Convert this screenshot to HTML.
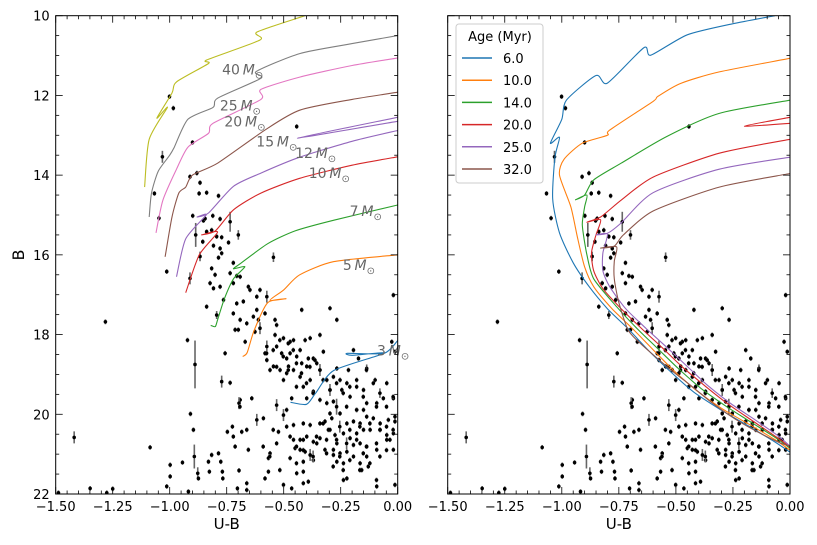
<!DOCTYPE html>
<html><head><meta charset="utf-8"><style>
html,body{margin:0;padding:0;background:#fff;}
svg{display:block;font-family:"DejaVu Sans","Liberation Sans",sans-serif;}
</style></head><body>
<svg id="fig" width="817" height="545" viewBox="0 0 817 545"></svg>
<script>
// ---- data ----
const stars = [
[-1.001,12.03],[-0.984,12.32],[-0.900,13.18],[-1.032,13.54,0.15],[-1.067,14.46],[-1.047,15.08],[-0.911,14.04],[-0.881,13.95],[-0.867,14.19],[-0.871,14.46],[-0.838,14.44],[-0.786,14.52],[-0.443,12.78],[-0.899,15.02],[-0.886,15.5,0.3],[-0.867,16.04,0.12],[-0.852,15.14],[-0.845,15.09],[-0.855,15.67],[-0.838,15.42],[-0.816,15.38],[-0.811,15.02],[-0.779,15.1],[-0.808,15.77],[-0.794,15.54],[-0.772,15.56],[-0.779,15.84],[-0.772,15.96],[-0.786,16.07],[-0.735,15.17,0.25],[-0.742,15.69],[-0.699,15.5,0.12],[-0.721,16.2],[-0.545,16.06,0.12],[-0.816,16.34],[-0.801,16.5],[-0.735,16.46],[-0.706,16.53],[-1.013,16.42],[-0.911,16.59,0.15],
[-0.823,16.71],[-0.808,16.84],[-0.779,16.80],[-0.721,16.71],[-0.691,16.55],[-0.655,16.80],[-0.706,17.22],[-0.677,17.17],[-0.648,16.88],[-0.618,17.05],[-0.604,16.88],[-0.574,17.05,0.15],[-0.838,17.30],[-0.794,17.51,0.1],[-0.764,17.13],[-0.721,17.47],[-0.691,17.63],[-0.713,17.88],[-0.699,17.88],[-0.662,17.72],[-0.633,17.55],[-0.611,17.63],[-0.618,17.38],[-0.582,17.47],[-0.604,17.84,0.15],[-0.669,18.18],[-0.626,17.93],[-0.538,17.63],[-0.531,17.76],[-0.538,18.01],[-0.501,18.09],[-0.472,18.18],[-0.457,18.14],[-0.531,18.30],[-0.509,18.47],[-0.472,18.47],[-0.487,18.60],[-0.574,18.30,0.15],[-0.582,18.47],[-0.574,18.64],[-0.560,18.89],[-0.545,18.80],[-0.516,18.89],[-0.487,18.97],[-0.457,18.89],[-0.399,18.80],[-0.370,18.60],[-0.428,18.39],[-0.406,18.14],[-0.384,18.09],[-0.341,18.01],[-0.421,17.38],[-0.297,17.34],[-0.267,17.63],[-0.019,17.01],[-0.026,18.18],[-0.012,18.43],[-0.194,18.39],[-0.172,18.60],[-0.136,18.85,0.1],[-0.216,18.89],[-0.267,18.85],[-0.282,19.06],[-0.341,18.89],[-0.384,19.14],[-0.414,19.31],[-0.428,19.06],[-0.479,18.80],[-0.501,19.14],[-0.443,18.55],[-0.421,18.72],[-0.392,18.60],[-0.355,18.72],[-0.326,18.43],[-0.311,19.14],[-0.253,19.14],[-0.223,19.22],[-0.180,19.31],[-0.150,19.39],[-0.099,19.14],[-0.048,19.22],[-0.063,19.60],[-0.019,19.60],[-0.092,19.72],[-0.136,19.72],[-0.150,19.89],[-0.180,19.89],[-0.209,19.56],[-0.245,19.39],[-0.297,19.39],[-0.282,19.68],[-0.311,19.72],[-0.341,19.64],[-0.370,19.43],[-0.399,19.60],[-0.465,19.60],[-0.487,19.89],[-0.531,19.77,0.15],[-0.501,20.02,0.15],[-0.457,20.27],[-0.414,20.23],[-0.384,20.27],[-0.341,20.23],[-0.319,20.18],[-0.289,20.10],[-0.253,19.98],[-0.223,20.23],[-0.194,20.18],[-0.165,20.23],[-0.136,20.06],[-0.107,20.10],[-0.077,20.23],[-0.041,20.14],[-0.012,20.18],[-0.019,20.48],[-0.048,20.52],[-0.077,20.39],[-0.121,20.39],[-0.150,20.39],[-0.180,20.48],[-0.209,20.60],[-0.238,20.48],[-0.275,20.52],[-0.304,20.39],[-0.341,20.60],[-0.370,20.69],[-0.399,20.56],[-0.428,20.64],[-0.457,20.64],[-0.450,20.85],[-0.428,20.89],[-0.406,20.94],[-0.384,21.02,0.15],[-0.355,20.73],[-0.319,20.89],[-0.282,20.89],[-0.267,20.73],[-0.253,20.98],[-0.223,20.94],[-0.194,20.77],[-0.165,20.73],[-0.136,20.81],[-0.092,20.89],[-0.048,20.64],[-0.019,20.89],[-0.136,21.06],[-0.165,21.23],[-0.194,21.06],[-0.238,21.23],[-0.267,21.19],[-0.282,21.02],[-0.370,21.15],[-0.414,21.19],[-0.443,21.48],[-0.414,21.44],[-0.472,21.10],[-0.472,20.56],[-0.487,20.31],[-0.523,20.44],[-0.531,20.73],[-0.560,20.98],[-0.567,21.10],[-0.567,21.44],[-0.582,21.61],[-0.501,21.77],[-0.465,21.86],[-0.414,21.73],[-0.392,21.69],[-0.223,21.61],[-0.238,21.65],[-0.158,21.40],[-0.129,21.31],[-0.092,21.81],[-0.012,21.77],[-0.640,19.60],[-0.691,19.64],[-0.696,19.72,0.15],[-0.684,20.44],[-0.655,20.89],[-0.713,20.81],[-0.725,20.31],[-0.747,20.44],[-0.721,20.56],[-0.772,19.18,0.15],[-0.735,19.21],[-0.757,18.47],[-0.922,18.14],[-0.889,18.75,0.6],[-0.909,19.99],[-0.896,20.39],[-0.892,21.06,0.3],[-0.877,21.48,0.15],[-0.874,21.61],[-0.944,21.21],[-0.998,21.27],[-0.998,21.56],[-1.086,20.83],[-1.419,20.58,0.15],[-1.282,17.68],[-1.349,21.86],[-1.250,21.87],[-1.013,21.81],[-0.918,21.94],[-0.830,21.19],[-0.826,21.44],[-0.816,21.02],[-0.786,20.98],[-0.776,21.19],[-0.769,21.44],[-0.767,21.61],[-0.696,21.41],[-0.703,21.86],[-0.662,21.90],[-0.662,21.73],[-0.618,20.14,0.15],[-0.589,20.10],[-1.488,21.97],[-1.276,21.97],
[-0.517,18.14],[-0.480,18.22],[-0.546,18.39],[-0.575,18.47],[-0.502,18.55],[-0.458,18.39],[-0.531,18.81],[-0.480,18.89],[-0.444,18.72],[-0.422,18.97],[-0.385,18.81],[-0.363,18.64],[-0.341,18.89,0.15],[-0.327,19.14],[-0.400,19.22],[-0.444,19.31],[-0.371,19.47],[-0.297,19.39,0.15],[-0.268,19.22],[-0.239,19.47],[-0.210,19.31],[-0.180,19.14],[-0.137,18.89],[-0.107,19.22],[-0.078,19.47,0.12],[-0.049,19.81],[-0.093,19.81],[-0.151,19.56],[-0.180,19.89],[-0.224,19.81],[-0.268,19.81,0.2],[-0.297,19.98],[-0.327,20.23],[-0.297,20.39],[-0.254,20.31,0.15],[-0.210,20.39],[-0.166,20.31],[-0.122,20.23],[-0.078,20.39],[-0.049,20.31],[-0.020,20.39],[-0.034,20.64],[-0.093,20.73],[-0.137,20.81],[-0.180,20.64],[-0.224,20.73,0.15],[-0.268,20.64],[-0.312,20.64],[-0.356,20.56],[-0.414,20.64],[-0.444,20.81],[-0.414,20.90],[-0.371,21.06,0.15],[-0.312,20.98],[-0.254,21.06],[-0.210,21.15],[-0.151,20.98],[-0.122,21.23],[-0.078,21.06],[-0.049,20.90],[-0.283,21.31],[-0.239,21.40],[-0.166,21.40],[-0.093,21.65],[-0.444,21.23],[-0.517,21.40],[-0.546,20.39],[-0.590,20.81],[-0.561,21.06],[-0.020,19.56],[-0.012,20.06],[-0.662,20.39],[-0.692,19.81]
];
// evolutionary tracks (left panel)
const trackMasses = ["40","25","20","15","12","10","7","5","3"];
const trackColors = ["#bcbd22","#7f7f7f","#e377c2","#8c564b","#9467bd","#d62728","#2ca02c","#ff7f0e","#1f77b4"];
const track40 = [[-0.407,10.0],[-0.617,10.41],[-0.604,10.61],[-0.837,11.11],[-0.83,11.2],[-0.97,11.66],[-0.99,11.94],[-1.056,12.57],[-1.01,12.3],[-1.09,13.1],[-1.11,14.3]];
const track25 = [[0,10.5],[-0.2,10.7],[-0.43,10.95],[-0.62,11.4],[-0.6,11.57],[-0.79,12.07],[-0.81,12.3],[-0.92,12.6],[-0.98,13.3],[-1.0,13.5],[-1.05,13.9],[-1.08,14.45],[-1.09,15.05]];
const track20 = [[0,11.06],[-0.2,11.25],[-0.43,11.54],[-0.6,11.85],[-0.6,12.1],[-0.81,12.7],[-0.83,12.95],[-0.92,13.3],[-0.97,13.85],[-1.03,14.63],[-1.06,15.45]];
const track15 = [[0,11.92],[-0.2,12.1],[-0.43,12.37],[-0.58,12.86],[-0.79,13.7],[-0.9,14.0],[-0.93,14.3],[-0.96,14.45],[-0.99,15.05],[-1.02,16.05]];
const track12 = [[0,12.88],[-0.2,13.15],[-0.43,13.55],[-0.6,13.95],[-0.72,14.28],[-0.83,14.95],[-0.88,15.05],[-0.84,15.0],[-0.93,15.6],[-0.97,16.55]];
const track12b = [[0,12.55],[-0.44,13.07],[0,12.65]];
const track10 = [[0,13.54],[-0.2,13.75],[-0.43,14.08],[-0.6,14.45],[-0.72,14.87],[-0.8,15.4],[-0.86,15.5],[-0.79,15.43],[-0.87,16.0],[-0.93,16.95]];
const track7 = [[0,14.75],[-0.28,15.13],[-0.45,15.4],[-0.57,15.72],[-0.69,16.22],[-0.72,16.35],[-0.67,16.3],[-0.72,16.6],[-0.76,17.1],[-0.79,17.63],[-0.8,17.8],[-0.82,17.77]];
const track5 = [[0,16.0],[-0.28,16.17],[-0.43,16.5],[-0.5,16.88],[-0.56,17.14],[-0.49,17.1],[-0.57,17.2],[-0.63,17.9],[-0.66,18.45],[-0.68,18.55]];
const track3 = [[0,18.15],[-0.06,18.47],[-0.22,18.47],[-0.2,18.52],[-0.06,18.47],[-0.28,18.9],[-0.36,19.47],[-0.4,19.75],[-0.47,19.7]];
const trackList = [track40,track25,track20,track15,track12,track10,track7,track5,track3];
const labelPos = [[-0.68,11.35],[-0.69,12.25],[-0.67,12.65],[-0.53,13.15],[-0.36,13.45],[-0.30,13.95],[-0.14,14.9],[-0.17,16.25],[-0.02,18.4]];
// isochrones (right panel)
const ages = ["6.0","10.0","14.0","20.0","25.0","32.0"];
const isoColors = ["#1f77b4","#ff7f0e","#2ca02c","#d62728","#9467bd","#8c564b"];
const iso6 = [[-0.066,10.0],[-0.25,10.2],[-0.45,10.48],[-0.61,10.99],[-0.64,10.8],[-0.80,11.69],[-0.85,11.5],[-0.98,12.12],[-1.0,12.6],[-1.05,13.2],[-1.01,13.05],[-1.03,13.55],[-1.04,14.6],[-1.01,15.45],[-0.95,16.2],[-0.88,16.8],[-0.80,17.35],[-0.71,17.85],[-0.62,18.4],[-0.52,18.95],[-0.42,19.45],[-0.30,19.9],[-0.18,20.3],[-0.07,20.68],[0,20.95]];
const iso10 = [[0,11.07],[-0.31,11.41],[-0.48,11.7],[-0.58,12.03],[-0.60,12.15],[-0.79,12.87],[-0.80,13.0],[-0.91,13.2],[-0.99,13.6],[-1.01,14.0],[-0.96,14.8],[-0.93,15.6],[-0.90,16.3],[-0.86,16.8],[-0.78,17.35],[-0.69,17.85],[-0.60,18.38],[-0.51,18.9],[-0.41,19.4],[-0.30,19.85],[-0.18,20.25],[-0.07,20.62],[0,20.9]];
const iso14 = [[0,12.12],[-0.31,12.45],[-0.54,13.03],[-0.74,13.7],[-0.86,14.12],[-0.90,14.5],[-0.94,14.62],[-0.89,14.5],[-0.90,14.8],[-0.91,15.25],[-0.89,16.0],[-0.86,16.6],[-0.76,17.3],[-0.67,17.85],[-0.58,18.35],[-0.49,18.85],[-0.39,19.35],[-0.28,19.8],[-0.17,20.2],[-0.06,20.6],[0,20.85]];
const iso20 = [[0,13.1],[-0.31,13.45],[-0.60,14.05],[-0.74,14.63],[-0.83,15.05],[-0.89,15.18],[-0.83,15.12],[-0.85,15.5],[-0.87,15.95],[-0.86,16.4],[-0.82,16.85],[-0.74,17.35],[-0.65,17.85],[-0.56,18.33],[-0.47,18.82],[-0.37,19.3],[-0.27,19.75],[-0.16,20.18],[-0.06,20.57],[0,20.82]];
const iso20b = [[0,12.55],[-0.20,12.77],[0,12.7]];
const iso25 = [[0,13.55],[-0.31,13.85],[-0.60,14.44],[-0.74,15.2],[-0.80,15.46],[-0.85,15.5],[-0.80,15.48],[-0.82,15.95],[-0.82,16.4],[-0.79,16.8],[-0.72,17.35],[-0.63,17.85],[-0.54,18.32],[-0.45,18.8],[-0.36,19.28],[-0.26,19.73],[-0.15,20.15],[-0.05,20.55],[0,20.8]];
const iso32 = [[0,13.96],[-0.31,14.3],[-0.60,14.9],[-0.73,15.5],[-0.77,15.78],[-0.83,15.83],[-0.76,15.8],[-0.77,16.16],[-0.77,16.6],[-0.75,17.2],[-0.71,17.88],[-0.66,18.2],[-0.53,18.85],[-0.43,19.3],[-0.34,19.72],[-0.24,20.12],[-0.14,20.45],[-0.05,20.7],[0,20.8]];
const isoList = [iso6,iso10,iso14,iso20,iso25,iso32];
const xTicks = ["\u22121.50","\u22121.25","\u22121.00","\u22120.75","\u22120.50","\u22120.25","0.00"];
const xTickVals = [-1.5,-1.25,-1.0,-0.75,-0.5,-0.25,0];
const yTickVals = [10,12,14,16,18,20,22];

// ---- drawing ----
const NS="http://www.w3.org/2000/svg";
const svg=document.getElementById('fig');
function mk(tag,attrs,parent){const e=document.createElementNS(NS,tag);for(const k in attrs)e.setAttribute(k,attrs[k]);(parent||svg).appendChild(e);return e;}
const T=15.7,Bt=494;
const yS=b=>T+(b-10)*(Bt-T)/12;
function build(L,R,name){
  const g=mk('g',{});
  
  
  const clip=mk('clipPath',{id:'c'+name},g);mk('rect',{x:L,y:T,width:R-L,height:Bt-T},clip);
  const plot=mk('g',{'clip-path':'url(#c'+name+')'},g);
  return {g,plot,L,R,xS:v=>L+(v+1.5)*(R-L)/1.5};
}
function axes(P,yLabels){
  const {xS,g,L,R}=P;
  const tg=mk('g',{stroke:'#000','stroke-width':0.8},g);
  
  
  for(let i=0;i<=30;i++){const v=-1.5+i*0.05;const x=xS(v);const maj=i%5==0;const len=maj?7:3.5;
    mk('line',{x1:x,y1:Bt,x2:x,y2:Bt-len},tg);mk('line',{x1:x,y1:T,x2:x,y2:T+len},tg);}
  for(let i=0;i<=24;i++){const v=10+i*0.5;const y=yS(v);const maj=i%4==0;const len=maj?7:3.5;
    mk('line',{x1:L,y1:y,x2:L+len,y2:y},tg);mk('line',{x1:R,y1:y,x2:R-len,y2:y},tg);}
  mk('rect',{x:L,y:T,width:R-L,height:Bt-T,fill:'none',stroke:'#000','stroke-width':1},g);
  xTickVals.forEach((v,i)=>{const t=mk('text',{x:xS(v),y:Bt+17,'text-anchor':'middle','font-size':13},g);t.textContent=xTicks[i];
    
    });
  if(yLabels)yTickVals.forEach(v=>{const t=mk('text',{x:L-6,y:yS(v)+5,'text-anchor':'end','font-size':13},g);t.textContent=v;
    
    });
  const xl=mk('text',{x:(L+R)/2,y:529,'text-anchor':'middle','font-size':15},g);xl.textContent='U-B';
  
  
}
function line(P,pts,color,name){
  const p=pts.map(q=>[P.xS(q[0]),yS(q[1])]);
  let d='M'+p[0][0].toFixed(1)+','+p[0][1].toFixed(1);
  const k=0.12;
  for(let i=0;i<p.length-1;i++){
    const p0=p[i-1]||p[i],p1=p[i],p2=p[i+1],p3=p[i+2]||p2;
    const c1=[p1[0]+(p2[0]-p0[0])*k,p1[1]+(p2[1]-p0[1])*k];
    const c2=[p2[0]-(p3[0]-p1[0])*k,p2[1]-(p3[1]-p1[1])*k];
    d+='C'+c1.map(v=>v.toFixed(1)).join(',')+' '+c2.map(v=>v.toFixed(1)).join(',')+' '+p2[0].toFixed(1)+','+p2[1].toFixed(1);
  }
  const e=mk('path',{d:d,fill:'none',stroke:color,'stroke-width':1.1,'stroke-linejoin':'round'},P.plot);
  
  
}
function drawStars(P){
  const sg=mk('g',{},P.plot);
  
  
  stars.forEach(s=>{const x=P.xS(s[0]),y=yS(s[1]);const e=s[2]||0.06;
    mk('line',{x1:x,y1:yS(s[1]-e),x2:x,y2:yS(s[1]+e),stroke:'#666','stroke-width':1.6},sg);
    const c=mk('circle',{cx:x,cy:y,r:1.8,fill:'#000'},sg);
    
    });
}
// left
const A=build(55.7,397.7,'left-panel');
drawStars(A);
trackList.forEach((t,i)=>line(A,t,trackColors[i],'track-'+trackMasses[i]+'msun'));
line(A,track12b,trackColors[4],'track-12msun-loop');
labelPos.forEach((p,i)=>{const t=mk('text',{x:A.xS(p[0]),y:yS(p[1])+5,'text-anchor':'middle','font-size':14,fill:'#666'},A.g);
  
  
  t.innerHTML=trackMasses[i]+'\u2009<tspan font-style="italic">M</tspan><tspan font-size="10" dy="4">\u2299</tspan>';});
axes(A,true);
const yl=mk('text',{x:24,y:255,'text-anchor':'middle','font-size':16,transform:'rotate(-90 24 255)'});yl.textContent='B';


// right
const Bp=build(447.7,790,'right-panel');
drawStars(Bp);
isoList.forEach((t,i)=>line(Bp,t,isoColors[i],'isochrone-'+ages[i]+'myr'));
line(Bp,iso20b,isoColors[3],'isochrone-20myr-loop');
axes(Bp,false);
// legend
const lg=mk('g',{});


mk('rect',{x:456,y:24,width:87,height:159,rx:3,fill:'#fff','fill-opacity':0.85,stroke:'#ccc'},lg);
const lt=mk('text',{x:500,y:41,'text-anchor':'middle','font-size':13},lg);lt.textContent='Age (Myr)';


ages.forEach((a,i)=>{const y=58+i*22.2;const row=mk('g',{},lg);
  
  
  mk('line',{x1:462,y1:y,x2:492,y2:y,stroke:isoColors[i],'stroke-width':1.5},row);
  const t=mk('text',{x:503,y:y+5,'font-size':13},row);t.textContent=a;});
</script>
</body></html>
